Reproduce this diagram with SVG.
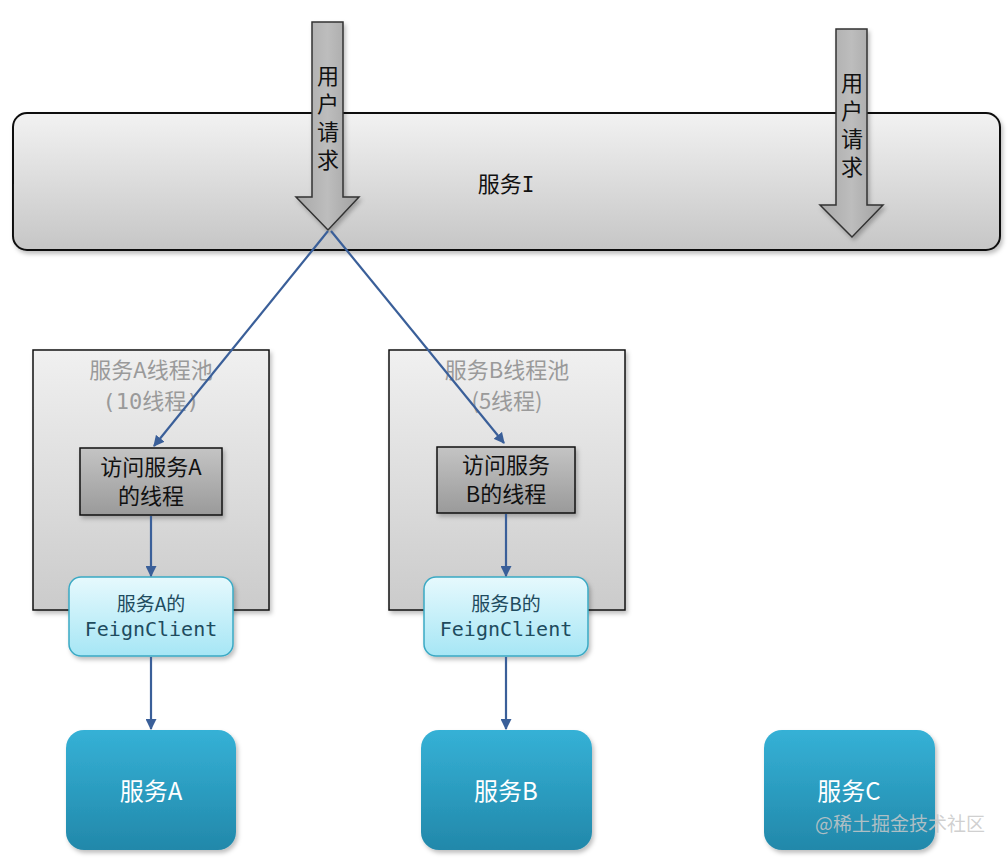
<svg xmlns="http://www.w3.org/2000/svg" width="1008" height="858" viewBox="0 0 1008 858">
<defs>
<linearGradient id="gI" x1="0" y1="0" x2="0" y2="1"><stop offset="0" stop-color="#f2f2f2"/><stop offset="1" stop-color="#c6c6c6"/></linearGradient>
<linearGradient id="gPool" x1="0" y1="0" x2="0" y2="1"><stop offset="0" stop-color="#f0f0f0"/><stop offset="1" stop-color="#cbcbcb"/></linearGradient>
<linearGradient id="gThread" x1="0" y1="0" x2="0" y2="1"><stop offset="0" stop-color="#c4c4c4"/><stop offset="1" stop-color="#9a9a9a"/></linearGradient>
<linearGradient id="gFeign" x1="0" y1="0" x2="0" y2="1"><stop offset="0" stop-color="#e6f9fd"/><stop offset="1" stop-color="#a6e6f5"/></linearGradient>
<linearGradient id="gSvc" x1="0" y1="0" x2="0" y2="1"><stop offset="0" stop-color="#35b1d6"/><stop offset="1" stop-color="#2288aa"/></linearGradient>
<linearGradient id="gArrow" x1="0" y1="0" x2="1" y2="0"><stop offset="0" stop-color="#a8a8a8"/><stop offset="0.5" stop-color="#bdbdbd"/><stop offset="1" stop-color="#a0a0a0"/></linearGradient>
<marker id="ah" viewBox="0 0 10 10" refX="9" refY="5" markerWidth="5" markerHeight="5" orient="auto" markerUnits="strokeWidth"><path d="M0,0 L10,5 L0,10 z" fill="#3a5f99"/></marker>
<filter id="sh" x="-10%" y="-10%" width="125%" height="130%"><feDropShadow dx="2" dy="3" stdDeviation="2" flood-color="#000" flood-opacity="0.25"/></filter>
</defs>
<style>
.cjk{font-family:"Noto Sans CJK SC","Noto Sans",sans-serif;}
.mono{font-family:"DejaVu Sans Mono","Liberation Mono","Noto Sans CJK SC",monospace;}
.vert{writing-mode:vertical-rl;text-orientation:upright;letter-spacing:6px;}
.conn{stroke:#3a5f99;stroke-width:2.2;fill:none;marker-end:url(#ah);}
.pool{fill:url(#gPool);stroke:#111;stroke-width:1.5;}
.thread{fill:url(#gThread);stroke:#111;stroke-width:1.5;}
.feign{fill:url(#gFeign);stroke:#3aa9c4;stroke-width:1.5;}
.svc{fill:url(#gSvc);stroke:none;}
.arrow{fill:url(#gArrow);stroke:#333;stroke-width:1.5;}
</style>
<rect width="1008" height="858" fill="#fff"/>

<g id="serviceI">
<rect x="13" y="113" width="987" height="137" rx="14" fill="url(#gI)" stroke="#111" stroke-width="2" filter="url(#sh)"/>
<text x="506" y="192" class="cjk" font-size="22" fill="#111" text-anchor="middle">服务<tspan class="mono" font-size="21">I</tspan></text>
</g>

<g id="poolA">
<rect x="33" y="350" width="236" height="260" class="pool" filter="url(#sh)"/>
<text x="151" y="378" class="cjk" font-size="22" fill="#9a9a9a" text-anchor="middle">服务A线程池</text>
<text x="151" y="409" class="cjk" font-size="22" fill="#9a9a9a" text-anchor="middle"><tspan class="mono">(10</tspan>线程<tspan class="mono">)</tspan></text>
</g>
<g id="poolB">
<rect x="389" y="350" width="236" height="260" class="pool" filter="url(#sh)"/>
<text x="507" y="378" class="cjk" font-size="22" fill="#9a9a9a" text-anchor="middle">服务B线程池</text>
<text x="507" y="409" class="cjk" font-size="22" fill="#9a9a9a" text-anchor="middle">(5线程)</text>
</g>

<g id="arrow1">
<path d="M312,22 L343,22 L343,197 L359,197 L328,230 L296,197 L312,197 Z" class="arrow" filter="url(#sh)"/>
<text x="328" y="65" class="cjk vert" font-size="22" fill="#111">用户请求</text>
</g>
<g id="arrow2">
<path d="M836,29 L867,29 L867,205 L883,205 L852,237 L820,205 L836,205 Z" class="arrow" filter="url(#sh)"/>
<text x="852" y="72" class="cjk vert" font-size="22" fill="#111">用户请求</text>
</g>

<g id="threadA">
<rect x="80" y="448" width="142" height="67" class="thread" filter="url(#sh)"/>
<text x="151" y="475" class="cjk" font-size="22" fill="#111" text-anchor="middle">访问服务A</text>
<text x="151" y="504" class="cjk" font-size="22" fill="#111" text-anchor="middle">的线程</text>
</g>
<g id="threadB">
<rect x="437" y="447" width="138" height="66" class="thread" filter="url(#sh)"/>
<text x="506" y="473" class="cjk" font-size="22" fill="#111" text-anchor="middle">访问服务</text>
<text x="506" y="502" class="cjk" font-size="22" fill="#111" text-anchor="middle">B的线程</text>
</g>

<g id="feignA">
<rect x="69" y="577" width="164" height="79" rx="12" class="feign" filter="url(#sh)"/>
<text x="151" y="611" class="cjk" font-size="19" fill="#1e4b5e" text-anchor="middle">服务A的</text>
<text x="151" y="636" class="mono" font-size="20" fill="#1e4b5e" text-anchor="middle">FeignClient</text>
</g>
<g id="feignB">
<rect x="424" y="577" width="164" height="79" rx="12" class="feign" filter="url(#sh)"/>
<text x="506" y="611" class="cjk" font-size="19" fill="#1e4b5e" text-anchor="middle">服务B的</text>
<text x="506" y="636" class="mono" font-size="20" fill="#1e4b5e" text-anchor="middle">FeignClient</text>
</g>

<g id="serviceA">
<rect x="66" y="730" width="170" height="120" rx="18" class="svc" filter="url(#sh)"/>
<text x="151" y="800" class="cjk" font-size="24" fill="#fff" text-anchor="middle">服务A</text>
</g>
<g id="serviceB">
<rect x="421" y="730" width="171" height="120" rx="18" class="svc" filter="url(#sh)"/>
<text x="506" y="800" class="cjk" font-size="24" fill="#fff" text-anchor="middle">服务B</text>
</g>
<g id="serviceC">
<rect x="764" y="730" width="171" height="120" rx="18" class="svc" filter="url(#sh)"/>
<text x="849" y="800" class="cjk" font-size="24" fill="#fff" text-anchor="middle">服务C</text>
</g>

<g id="connectors">
<line x1="328" y1="231" x2="154" y2="446" class="conn"/>
<line x1="331" y1="231" x2="504" y2="443" class="conn"/>
<line x1="151" y1="516" x2="151" y2="576" class="conn"/>
<line x1="506" y1="514" x2="506" y2="576" class="conn"/>
<line x1="151" y1="657" x2="151" y2="729" class="conn"/>
<line x1="506" y1="657" x2="506" y2="729" class="conn"/>
</g>

<text x="985" y="831" class="cjk" font-size="19" fill="#c8c8c8" fill-opacity="0.85" text-anchor="end">@稀土掘金技术社区</text>
</svg>
